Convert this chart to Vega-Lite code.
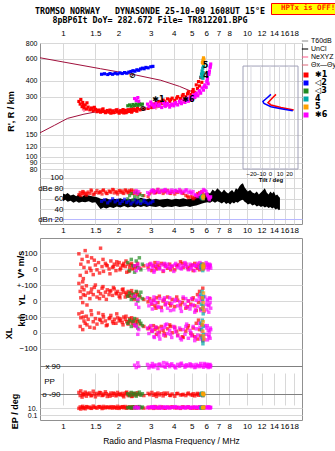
{
  "$schema": "https://vega.github.io/schema/vega-lite/v6.json",
  "background": "white",
  "padding": {"left": 3, "top": 2, "right": 0, "bottom": 0},
  "title": {
    "text": ["TROMSO NORWAY\u00a0\u00a0\u00a0DYNASONDE 25-10-09 1608UT 15°E", "\u00a0\u00a08pBP6It DoY= 282.672 File= TR812201.BPG"],
    "font": "DejaVu Sans Mono", "fontSize": 8.3, "fontWeight": "bold", "color": "#000", "anchor": "middle", "frame": "group", "dx": -21, "lineHeight": 9, "offset": -22
  },
  "spacing": 2,
  "resolve": {"scale": {"fill": "independent", "color": "independent", "shape": "independent", "x": "independent", "y": "independent"}},
  "vconcat": [
    {
      "width": 262, "height": 181,
      "resolve": {"scale": {"x": "independent", "y": "independent"}, "axis": {"x": "independent", "y": "independent"}},
      "layer": [
        {
          "layer": [
            {
              "data": {"name": "mline"},
              "mark": {"type": "line", "color": "#a0103c", "strokeWidth": 1, "clip": true},
              "encoding": {
                "x": {"field": "f", "type": "quantitative", "scale": {"type": "log", "domain": [0.75, 19.9], "nice": false},
                      "axis": {"orient": "top", "values": [1,1.5,2,3,4,5,6,7,8,10,12,14,16,18], "format": "~g", "grid": true, "title": null, "labelPadding": 6}},
                "y": {"field": "h", "type": "quantitative", "scale": {"type": "log", "domain": [29.3, 800], "nice": false},
                      "axis": {"orient": "left", "values": [80,90,100,120,150,200,300,400,600,800], "format": "~g", "grid": true, "labelFontSize": 7, "title": "R', R / km", "titleX": -25, "titleY": 68}},
                "detail": {"field": "line"}
              }
            },
            {
              "data": {"name": "nexyz"},
              "mark": {"type": "line", "strokeWidth": 1},
              "encoding": {
                "x": {"field": "f", "type": "quantitative"},
                "y": {"field": "h", "type": "quantitative"},
                "color": {"field": "s", "type": "nominal",
                          "scale": {"domain": ["T60dB", "UnCl", "NeXYZ", "Θx—Θy"], "range": ["#909090", "#000000", "#ff6090", "#e07080"]},
                          "legend": {"orient": "none", "legendX": 261, "legendY": -6, "title": null, "symbolType": "stroke", "symbolSize": 40, "symbolStrokeWidth": 1.5, "labelFont": "Liberation Sans", "labelFontSize": 7, "labelColor": "#000", "rowPadding": 1, "labelOffset": 2, "padding": 0}}
              }
            },
            {
              "data": {"name": "nexyz"},
              "mark": {"type": "point", "shape": "cross", "filled": true, "size": 18},
              "encoding": {
                "x": {"field": "f", "type": "quantitative"},
                "y": {"field": "h", "type": "quantitative"},
                "color": {"field": "s", "type": "nominal"}
              }
            },
            {
              "data": {"name": "echo"},
              "mark": {"type": "square", "size": 10, "opacity": 1},
              "encoding": {
                "x": {"field": "f", "type": "quantitative"},
                "y": {"field": "h", "type": "quantitative"},
                "fill": {"field": "c", "type": "nominal",
                         "scale": {"domain": ["1","2","3","4","5","6"], "range": ["#ff0000","#0000ff","#208a20","#00a8a8","#ffa000","#ff00ff"]},
                         "legend": {"orient": "none", "legendX": 262, "legendY": 28, "title": null, "symbolType": "square", "symbolSize": 25, "labelFont": "DejaVu Sans", "labelFontSize": 8, "labelFontWeight": "bold", "labelColor": "#000", "rowPadding": 0, "labelOffset": 5, "padding": 0,
                                    "labelExpr": "datum.label=='1'?'✱1':datum.label=='2'?'◁2':datum.label=='3'?'◁3':datum.label=='4'?' 4':datum.label=='5'?' 5':'✱6'"}}
              }
            },
            {
              "data": {"name": "tlabel"},
              "mark": {"type": "text", "font": "DejaVu Sans", "fontSize": 8, "fontWeight": "bold", "color": "#000"},
              "encoding": {
                "x": {"field": "f", "type": "quantitative"},
                "y": {"field": "h", "type": "quantitative"},
                "text": {"field": "t"}
              }
            },
            {
              "data": {"values": [{"note": "HPTx is OFF!"}]},
              "mark": {"type": "point", "opacity": 0},
              "encoding": {
                "shape": {"field": "note", "type": "nominal",
                          "legend": {"orient": "none", "legendX": 231, "legendY": -40, "title": null, "fillColor": "#ffff00", "strokeColor": "#ff0000", "padding": 1.5, "symbolSize": 1, "symbolOpacity": 0, "symbolStrokeWidth": 0, "labelOffset": 1, "labelFont": "DejaVu Sans Mono", "labelFontSize": 7.5, "labelFontWeight": "bold", "labelColor": "#ff2000"}}
              }
            }
          ]
        },
        {
          "layer": [
            {
              "data": {"name": "noise"},
              "mark": {"type": "area", "color": "#000"},
              "encoding": {
                "x": {"field": "f", "type": "quantitative", "scale": {"type": "log", "domain": [0.75, 19.9], "nice": false},
                      "axis": {"orient": "bottom", "values": [1,1.5,2,3,4,5,6,7,8,10,12,14,16,18], "format": "~g", "grid": false, "title": null, "labelPadding": 2}},
                "y": {"field": "lo", "type": "quantitative", "scale": {"domain": [11.3, 360], "nice": false, "zero": false},
                      "axis": {"orient": "left", "offset": -25, "values": [20,40,60,80,100], "labelPadding": 2, "title": null, "grid": true,
                               "gridColor": {"condition": {"test": "datum.value==20", "value": "#b8b8ff"}, "value": "#d8d8d8"},
                               "labelExpr": "datum.value==80?'dBe 80':datum.value==20?'dBn 20':datum.label"}},
                "y2": {"field": "hi"}
              }
            },
            {
              "data": {"name": "echo"},
              "mark": {"type": "square", "size": 10},
              "encoding": {
                "x": {"field": "f", "type": "quantitative"},
                "y": {"field": "db", "type": "quantitative"},
                "fill": {"field": "c", "type": "nominal"}
              }
            }
          ]
        },
        {
          "layer": [
            {
              "data": {"values": [{"t1": -28.4, "t2": 29.5, "h1": 80, "h2": 525}]},
              "mark": {"type": "rect", "filled": false, "stroke": "#a0a0b8", "strokeWidth": 1},
              "encoding": {
                "x": {"field": "t1", "type": "quantitative", "scale": {"domain": [-28.4, 29.5], "range": [203, 258], "nice": false, "zero": false},
                      "axis": {"orient": "bottom", "offset": -55, "values": [-20,-10,0,10,20], "title": "Tilt / deg", "labelFontSize": 6, "titleFontSize": 6, "labelPadding": 1, "titlePadding": 0, "grid": false, "labelOverlap": false, "labelFlush": false}},
                "x2": {"field": "t2"},
                "y": {"field": "h1", "type": "quantitative", "scale": {"type": "log", "domain": [29.3, 800], "nice": false}, "axis": null},
                "y2": {"field": "h2"}
              }
            },
            {
              "data": {"values": [{"t": -20}, {"t": -10}, {"t": 0}, {"t": 10}, {"t": 20}]},
              "mark": {"type": "rule", "color": "#d8d8e0"},
              "encoding": {
                "x": {"field": "t", "type": "quantitative"},
                "y": {"datum": 80, "type": "quantitative"},
                "y2": {"datum": 525}
              }
            },
            {
              "data": {"name": "tiltx"},
              "mark": {"type": "line", "color": "#ff0000", "strokeWidth": 1.5},
              "encoding": {
                "x": {"field": "t", "type": "quantitative"},
                "y": {"field": "h", "type": "quantitative"},
                "order": {"field": "o"}
              }
            },
            {
              "data": {"name": "tilty"},
              "mark": {"type": "line", "color": "#0000ff", "strokeWidth": 1.5},
              "encoding": {
                "x": {"field": "t", "type": "quantitative"},
                "y": {"field": "h", "type": "quantitative"},
                "order": {"field": "o"}
              }
            }
          ]
        }
      ]
    },
    {
      "width": 262, "height": 182,
      "resolve": {"scale": {"x": "independent", "y": "independent"}, "axis": {"x": "independent", "y": "independent"}},
      "layer": [
        {
          "data": {"name": "echo"},
          "mark": {"type": "square", "size": 12},
          "encoding": {
            "x": {"field": "f", "type": "quantitative", "scale": {"type": "log", "domain": [0.75, 19.9], "nice": false},
                  "axis": {"orient": "bottom", "values": [1,1.5,2,3,4,5,6,7,8,10,12,14,16,18], "format": "~g", "grid": true, "title": "Radio and Plasma Frequency / MHz", "titleFontWeight": "normal", "titleFontSize": 8.5, "titlePadding": 6, "labelPadding": 2}},
            "y": {"field": "v", "type": "quantitative", "scale": {"domain": [-100, 100], "range": [47, 15], "nice": false, "zero": false},
                  "axis": {"orient": "left", "values": [0, 100], "grid": true, "title": "V* m/s", "titleX": -15, "titleY": 26}},
            "fill": {"field": "c", "type": "nominal", "scale": {"domain": ["1","2","3","4","5","6"], "range": ["#ff0000","#0000ff","#208a20","#00a8a8","#ffa000","#ff00ff"]}, "legend": null}
          }
        },
        {
          "data": {"name": "echo"},
          "mark": {"type": "square", "size": 12},
          "encoding": {
            "x": {"field": "f", "type": "quantitative", "scale": {"type": "log", "domain": [0.75, 19.9], "nice": false}, "axis": null},
            "y": {"field": "yl", "type": "quantitative", "scale": {"domain": [-100, 100], "range": [79, 47], "nice": false, "zero": false},
                  "axis": {"orient": "left", "values": [0, 100], "grid": true, "labelExpr": "datum.value==100?'+-100':'0'", "title": "km\u00a0\u00a0\u00a0YL", "titleX": -14, "titleY": 72}},
            "fill": {"field": "c", "type": "nominal", "legend": null}
          }
        },
        {
          "data": {"name": "echo"},
          "mark": {"type": "square", "size": 12},
          "encoding": {
            "x": {"field": "f", "type": "quantitative", "scale": {"type": "log", "domain": [0.75, 19.9], "nice": false}, "axis": null},
            "y": {"field": "xl", "type": "quantitative", "scale": {"domain": [-100, 100], "range": [110.5, 79], "nice": false, "zero": false},
                  "axis": {"orient": "left", "values": [-100, 0, 100], "grid": true, "labelExpr": "datum.value==100?'+-100':datum.label", "title": "XL", "titleX": -27, "titleY": 95}},
            "fill": {"field": "c", "type": "nominal", "legend": null}
          }
        },
        {
          "data": {"name": "echo"},
          "mark": {"type": "square", "size": 12},
          "encoding": {
            "x": {"field": "f", "type": "quantitative", "scale": {"type": "log", "domain": [0.75, 19.9], "nice": false}, "axis": null},
            "y": {"field": "pp", "type": "quantitative", "scale": {"domain": [-90, 90], "range": [156, 128], "nice": false, "zero": false},
                  "axis": {"orient": "left", "offset": -22, "values": [-90, 90], "grid": true, "gridColor": "#808080", "labelPadding": 2, "labelExpr": "datum.value==90?'x 90':'o -90'", "title": "PP", "titleAngle": 0, "titleX": -13, "titleY": 143, "titleAlign": "center", "titleBaseline": "middle", "titleFontWeight": "normal", "titleFontSize": 8}},
            "fill": {"field": "c", "type": "nominal", "legend": null}
          }
        },
        {
          "data": {"name": "echo"},
          "mark": {"type": "square", "size": 12},
          "encoding": {
            "x": {"field": "f", "type": "quantitative", "scale": {"type": "log", "domain": [0.75, 19.9], "nice": false}, "axis": null},
            "y": {"field": "ep", "type": "quantitative", "scale": {"type": "log", "domain": [0.1, 10], "range": [177, 170], "nice": false},
                  "axis": {"orient": "left", "values": [0.1, 10], "grid": true, "labelFontSize": 7, "labelExpr": "datum.value==10?'10.':'0.1'", "title": "EP / deg", "titleX": -21, "titleY": 173}},
            "fill": {"field": "c", "type": "nominal", "legend": null}
          }
        }
      ]
    }
  ],
  "datasets": {
    "mline": [
      {"line": "a", "f": 0.75, "h": 611}, {"line": "a", "f": 1, "h": 566}, {"line": "a", "f": 1.6, "h": 500}, {"line": "a", "f": 2.5, "h": 445}, {"line": "a", "f": 3.4, "h": 405}, {"line": "a", "f": 4.3, "h": 362}, {"line": "a", "f": 5.2, "h": 322},
      {"line": "b", "f": 0.75, "h": 155}, {"line": "b", "f": 0.9, "h": 178}, {"line": "b", "f": 1.06, "h": 202}, {"line": "b", "f": 1.3, "h": 218}, {"line": "b", "f": 1.6, "h": 231}, {"line": "b", "f": 2.2, "h": 238}, {"line": "b", "f": 3.0, "h": 242}, {"line": "b", "f": 3.4, "h": 249}, {"line": "b", "f": 4.3, "h": 266}, {"line": "b", "f": 5.2, "h": 290}
    ],
    "nexyz": [
      {"s": "NeXYZ", "f": 1.3, "h": 236}, {"s": "NeXYZ", "f": 1.6, "h": 233}, {"s": "NeXYZ", "f": 2.0, "h": 236}, {"s": "NeXYZ", "f": 2.4, "h": 238}, {"s": "NeXYZ", "f": 2.8, "h": 241}, {"s": "NeXYZ", "f": 3.2, "h": 246}, {"s": "NeXYZ", "f": 3.6, "h": 252}, {"s": "NeXYZ", "f": 4.0, "h": 259}, {"s": "NeXYZ", "f": 4.4, "h": 268}, {"s": "NeXYZ", "f": 4.8, "h": 280}, {"s": "NeXYZ", "f": 5.2, "h": 296}, {"s": "NeXYZ", "f": 5.5, "h": 318}
    ],
    "tlabel": [
      {"f": 3.3, "h": 282, "t": "✱1"}, {"f": 2.38, "h": 440, "t": "⊘"}, {"f": 2.72, "h": 238, "t": "⊗"}, {"f": 4.8, "h": 282, "t": "✱6"}, {"f": 5.98, "h": 440, "t": "4"}, {"f": 5.95, "h": 525, "t": "5"}
    ],
    "tiltx": [
      {"o": 1, "t": 6.3, "h": 313}, {"o": 2, "t": 2, "h": 290}, {"o": 3, "t": -2.1, "h": 269}, {"o": 4, "t": 1, "h": 258}, {"o": 5, "t": 11.6, "h": 246}, {"o": 6, "t": 25, "h": 235}
    ],
    "tilty": [
      {"o": 1, "t": 1, "h": 313}, {"o": 2, "t": -3.2, "h": 293}, {"o": 3, "t": -7.4, "h": 275}, {"o": 4, "t": -6.3, "h": 265}, {"o": 5, "t": 1, "h": 250}, {"o": 6, "t": 11.6, "h": 241}, {"o": 7, "t": 24, "h": 232}
    ],
    "noise": [
      {"f": 1.0, "lo": 55, "hi": 70}, {"f": 1.03, "lo": 58, "hi": 68}, {"f": 1.06, "lo": 54, "hi": 71}, {"f": 1.1, "lo": 56, "hi": 66}, {"f": 1.14, "lo": 52, "hi": 68}, {"f": 1.18, "lo": 55, "hi": 65}, {"f": 1.22, "lo": 52, "hi": 69}, {"f": 1.27, "lo": 54, "hi": 64}, {"f": 1.32, "lo": 53, "hi": 68}, {"f": 1.38, "lo": 55, "hi": 66}, {"f": 1.44, "lo": 52, "hi": 65}, {"f": 1.5, "lo": 53, "hi": 64},
      {"f": 1.56, "lo": 45, "hi": 62}, {"f": 1.6, "lo": 40, "hi": 60}, {"f": 1.66, "lo": 43, "hi": 59}, {"f": 1.72, "lo": 41, "hi": 61}, {"f": 1.8, "lo": 44, "hi": 58}, {"f": 1.88, "lo": 42, "hi": 60}, {"f": 1.96, "lo": 45, "hi": 59}, {"f": 2.05, "lo": 43, "hi": 61}, {"f": 2.15, "lo": 46, "hi": 58}, {"f": 2.25, "lo": 43, "hi": 60}, {"f": 2.35, "lo": 45, "hi": 59}, {"f": 2.45, "lo": 43, "hi": 61}, {"f": 2.55, "lo": 46, "hi": 59}, {"f": 2.65, "lo": 44, "hi": 62}, {"f": 2.75, "lo": 46, "hi": 60}, {"f": 2.85, "lo": 44, "hi": 59}, {"f": 2.95, "lo": 46, "hi": 61},
      {"f": 3.05, "lo": 45, "hi": 58}, {"f": 3.2, "lo": 44, "hi": 60}, {"f": 3.35, "lo": 46, "hi": 58}, {"f": 3.5, "lo": 43, "hi": 59}, {"f": 3.7, "lo": 45, "hi": 60}, {"f": 3.9, "lo": 44, "hi": 58}, {"f": 4.1, "lo": 46, "hi": 60}, {"f": 4.3, "lo": 44, "hi": 59}, {"f": 4.5, "lo": 45, "hi": 61}, {"f": 4.7, "lo": 46, "hi": 59}, {"f": 4.9, "lo": 44, "hi": 60}, {"f": 5.1, "lo": 46, "hi": 62}, {"f": 5.3, "lo": 47, "hi": 64}, {"f": 5.5, "lo": 49, "hi": 66}, {"f": 5.7, "lo": 51, "hi": 68}, {"f": 5.9, "lo": 52, "hi": 70},
      {"f": 6.1, "lo": 53, "hi": 72}, {"f": 6.3, "lo": 52, "hi": 70}, {"f": 6.5, "lo": 55, "hi": 78}, {"f": 6.7, "lo": 52, "hi": 74}, {"f": 6.9, "lo": 55, "hi": 80}, {"f": 7.1, "lo": 53, "hi": 76}, {"f": 7.3, "lo": 51, "hi": 72}, {"f": 7.5, "lo": 54, "hi": 78}, {"f": 7.7, "lo": 50, "hi": 73}, {"f": 7.9, "lo": 52, "hi": 70}, {"f": 8.1, "lo": 49, "hi": 74}, {"f": 8.3, "lo": 53, "hi": 77}, {"f": 8.5, "lo": 51, "hi": 72}, {"f": 8.7, "lo": 54, "hi": 80}, {"f": 8.9, "lo": 52, "hi": 78},
      {"f": 9.1, "lo": 55, "hi": 84}, {"f": 9.3, "lo": 57, "hi": 88}, {"f": 9.5, "lo": 58, "hi": 90}, {"f": 9.7, "lo": 54, "hi": 82}, {"f": 9.9, "lo": 52, "hi": 78}, {"f": 10.1, "lo": 49, "hi": 74}, {"f": 10.4, "lo": 51, "hi": 77}, {"f": 10.7, "lo": 47, "hi": 72}, {"f": 11.0, "lo": 49, "hi": 70}, {"f": 11.3, "lo": 45, "hi": 74}, {"f": 11.6, "lo": 47, "hi": 68}, {"f": 11.9, "lo": 44, "hi": 72}, {"f": 12.2, "lo": 46, "hi": 76}, {"f": 12.5, "lo": 43, "hi": 80}, {"f": 12.8, "lo": 45, "hi": 72}, {"f": 13.1, "lo": 42, "hi": 68}, {"f": 13.4, "lo": 44, "hi": 74}, {"f": 13.7, "lo": 41, "hi": 70}, {"f": 14.0, "lo": 43, "hi": 74}, {"f": 14.3, "lo": 39, "hi": 66}, {"f": 14.6, "lo": 41, "hi": 68}, {"f": 14.9, "lo": 38, "hi": 64}, {"f": 15.1, "lo": 39, "hi": 62}
    ],
    "echo": [
      {"f": 1.62, "c": "2", "h": 452, "db": 55}, {"f": 1.68, "c": "2", "h": 456, "db": 58}, {"f": 1.75, "c": "2", "h": 450, "db": 52}, {"f": 1.8, "c": "2", "h": 458, "db": 56}, {"f": 1.86, "c": "2", "h": 452, "db": 60}, {"f": 1.92, "c": "2", "h": 460, "db": 54}, {"f": 1.98, "c": "2", "h": 455, "db": 57}, {"f": 2.04, "c": "2", "h": 463, "db": 51}, {"f": 2.1, "c": "2", "h": 458, "db": 55}, {"f": 2.16, "c": "2", "h": 466, "db": 59}, {"f": 2.22, "c": "2", "h": 461, "db": 53}, {"f": 2.28, "c": "2", "h": 470, "db": 56},
      {"f": 2.34, "c": "2", "h": 475, "db": 50}, {"f": 2.4, "c": "2", "h": 482, "db": 54}, {"f": 2.46, "c": "2", "h": 478, "db": 58}, {"f": 2.52, "c": "2", "h": 490, "db": 52}, {"f": 2.58, "c": "2", "h": 486, "db": 55}, {"f": 2.64, "c": "2", "h": 498, "db": 51}, {"f": 2.7, "c": "2", "h": 505, "db": 54}, {"f": 2.76, "c": "2", "h": 500, "db": 57}, {"f": 2.82, "c": "2", "h": 512, "db": 53}, {"f": 2.9, "c": "2", "h": 508, "db": 50}, {"f": 3.0, "c": "2", "h": 518, "db": 52}, {"f": 3.08, "c": "2", "h": 522, "db": 55},
      {"f": 1.22, "c": "1", "h": 275, "db": 68, "v": 95, "yl": 110, "xl": 120, "pp": -80, "ep": 8},
      {"f": 1.24, "c": "1", "h": 262, "db": 72, "v": -40, "yl": 60, "xl": 40, "pp": -100, "ep": 20},
      {"f": 1.25, "c": "1", "h": 285, "db": 66, "v": 30, "yl": 20, "xl": 95, "pp": -70, "ep": 5},
      {"f": 1.27, "c": "1", "h": 250, "db": 70, "v": 60, "yl": 85, "xl": 130, "pp": -110, "ep": 15},
      {"f": 1.28, "c": "1", "h": 270, "db": 74, "v": -80, "yl": -10, "xl": 20, "pp": -88, "ep": 30},
      {"f": 1.29, "c": "1", "h": 255, "db": 73, "v": -60, "yl": 40, "xl": 100, "pp": -94, "ep": 12},
      {"f": 1.3, "c": "1", "h": 245, "db": 69, "v": 10, "yl": 70, "xl": 75, "pp": -95, "ep": 10},
      {"f": 1.32, "c": "1", "h": 258, "db": 71, "v": 115, "yl": 35, "xl": 60, "pp": -78, "ep": 6},
      {"f": 1.34, "c": "1", "h": 240, "db": 67, "v": -20, "yl": 95, "xl": 105, "pp": -104, "ep": 25},
      {"f": 1.35, "c": "1", "h": 268, "db": 70, "v": 80, "yl": -25, "xl": 50, "pp": -86, "ep": 20},
      {"f": 1.37, "c": "1", "h": 248, "db": 73, "v": 45, "yl": 50, "xl": 85, "pp": -92, "ep": 12},
      {"f": 1.4, "c": "1", "h": 236, "db": 70, "v": 5, "yl": 15, "xl": 35, "pp": -84, "ep": 18},
      {"f": 1.42, "c": "1", "h": 240, "db": 77, "v": -10, "yl": 55, "xl": 140, "pp": -102, "ep": 9},
      {"f": 1.43, "c": "1", "h": 244, "db": 75, "v": 70, "yl": 75, "xl": 115, "pp": -98, "ep": 8},
      {"f": 1.46, "c": "1", "h": 232, "db": 68, "v": -35, "yl": 40, "xl": 70, "pp": -72, "ep": 35},
      {"f": 1.48, "c": "1", "h": 247, "db": 69, "v": 55, "yl": 85, "xl": 30, "pp": -90, "ep": 16},
      {"f": 1.5, "c": "1", "h": 238, "db": 72, "v": 25, "yl": 100, "xl": 90, "pp": -108, "ep": 14},
      {"f": 1.53, "c": "1", "h": 228, "db": 76, "v": -5, "yl": 25, "xl": 55, "pp": -86, "ep": 9},
      {"f": 1.56, "c": "1", "h": 235, "db": 71, "v": 40, "yl": 60, "xl": 125, "pp": -96, "ep": 22},
      {"f": 1.58, "c": "1", "h": 230, "db": 72, "v": -25, "yl": 15, "xl": 85, "pp": -80, "ep": 25},
      {"f": 1.6, "c": "1", "h": 226, "db": 74, "v": 130, "yl": 45, "xl": 80, "pp": -82, "ep": 16},
      {"f": 1.63, "c": "1", "h": 236, "db": 69, "v": 15, "yl": 80, "xl": 65, "pp": -100, "ep": 7},
      {"f": 1.65, "c": "1", "h": 240, "db": 76, "v": 60, "yl": 90, "xl": 115, "pp": -98, "ep": 11},
      {"f": 1.66, "c": "1", "h": 229, "db": 77, "v": -15, "yl": 30, "xl": 100, "pp": -90, "ep": 28},
      {"f": 1.7, "c": "1", "h": 224, "db": 73, "v": 35, "yl": 55, "xl": 75, "pp": -76, "ep": 11},
      {"f": 1.72, "c": "1", "h": 228, "db": 70, "v": 25, "yl": 10, "xl": 45, "pp": -88, "ep": 18},
      {"f": 1.74, "c": "1", "h": 233, "db": 70, "v": 20, "yl": 70, "xl": 50, "pp": -106, "ep": 19},
      {"f": 1.78, "c": "1", "h": 226, "db": 75, "v": 0, "yl": 40, "xl": 90, "pp": -94, "ep": 13},
      {"f": 1.8, "c": "1", "h": 235, "db": 74, "v": -30, "yl": 60, "xl": 95, "pp": -104, "ep": 13},
      {"f": 1.82, "c": "1", "h": 222, "db": 72, "v": 50, "yl": 65, "xl": 110, "pp": -84, "ep": 24},
      {"f": 1.86, "c": "1", "h": 231, "db": 78, "v": 10, "yl": 35, "xl": 70, "pp": -98, "ep": 9},
      {"f": 1.88, "c": "1", "h": 224, "db": 77, "v": 15, "yl": 85, "xl": 60, "pp": -84, "ep": 21},
      {"f": 1.9, "c": "1", "h": 225, "db": 71, "v": 30, "yl": 75, "xl": 85, "pp": -88, "ep": 17},
      {"f": 1.94, "c": "1", "h": 234, "db": 74, "v": -10, "yl": 50, "xl": 60, "pp": -102, "ep": 12},
      {"f": 1.96, "c": "1", "h": 236, "db": 72, "v": 45, "yl": 45, "xl": 120, "pp": -96, "ep": 9},
      {"f": 1.98, "c": "1", "h": 227, "db": 69, "v": 25, "yl": 60, "xl": 95, "pp": -80, "ep": 30},
      {"f": 2.02, "c": "1", "h": 222, "db": 76, "v": 40, "yl": 30, "xl": 75, "pp": -92, "ep": 8},
      {"f": 2.04, "c": "1", "h": 228, "db": 75, "v": -5, "yl": 20, "xl": 90, "pp": -90, "ep": 15},
      {"f": 2.06, "c": "1", "h": 232, "db": 72, "v": 5, "yl": 45, "xl": 80, "pp": -96, "ep": 15},
      {"f": 2.1, "c": "1", "h": 226, "db": 75, "v": 20, "yl": 70, "xl": 65, "pp": -86, "ep": 21},
      {"f": 2.12, "c": "1", "h": 237, "db": 71, "v": 25, "yl": 75, "xl": 50, "pp": -100, "ep": 24},
      {"f": 2.14, "c": "1", "h": 223, "db": 70, "v": 35, "yl": 55, "xl": 100, "pp": -108, "ep": 11},
      {"f": 2.18, "c": "1", "h": 233, "db": 77, "v": 15, "yl": 25, "xl": 85, "pp": -90, "ep": 26},
      {"f": 2.2, "c": "1", "h": 224, "db": 76, "v": 50, "yl": 50, "xl": 105, "pp": -82, "ep": 12},
      {"f": 2.22, "c": "1", "h": 227, "db": 73, "v": -20, "yl": 40, "xl": 70, "pp": -78, "ep": 9},
      {"f": 2.26, "c": "1", "h": 236, "db": 71, "v": 30, "yl": 60, "xl": 55, "pp": -100, "ep": 14},
      {"f": 2.28, "c": "1", "h": 234, "db": 73, "v": -15, "yl": 30, "xl": 70, "pp": -92, "ep": 17},
      {"f": 2.3, "c": "1", "h": 229, "db": 76, "v": 10, "yl": 35, "xl": 90, "pp": -94, "ep": 18},
      {"f": 2.34, "c": "1", "h": 238, "db": 74, "v": 25, "yl": 50, "xl": 75, "pp": -84, "ep": 12},
      {"f": 2.36, "c": "1", "h": 226, "db": 77, "v": 35, "yl": 65, "xl": 95, "pp": -106, "ep": 10},
      {"f": 2.38, "c": "1", "h": 231, "db": 70, "v": 0, "yl": 20, "xl": 60, "pp": -104, "ep": 23},
      {"f": 2.42, "c": "1", "h": 240, "db": 75, "v": 20, "yl": 45, "xl": 80, "pp": -88, "ep": 10},
      {"f": 2.44, "c": "1", "h": 236, "db": 70, "v": 5, "yl": 10, "xl": 45, "pp": -88, "ep": 19},
      {"f": 2.48, "c": "1", "h": 234, "db": 72, "v": 15, "yl": 30, "xl": 65, "pp": -96, "ep": 16},
      {"f": 2.52, "c": "1", "h": 230, "db": 74, "v": 20, "yl": 55, "xl": 85, "pp": -94, "ep": 14},
      {"f": 2.54, "c": "1", "h": 243, "db": 68, "v": 35, "yl": 40, "xl": 70, "pp": -82, "ep": 20},
      {"f": 2.62, "c": "1", "h": 236, "db": 70, "v": 5, "yl": 25, "xl": 55, "pp": -92, "ep": 13},
      {"f": 2.75, "c": "1", "h": 240, "db": 66, "v": 20, "yl": 10, "xl": 40, "pp": -100, "ep": 9},
      {"f": 2.9, "c": "1", "h": 242, "db": 64, "v": 10, "yl": -5, "xl": 25, "pp": -86, "ep": 15},
      {"f": 2.96, "c": "1", "h": 252, "db": 70, "v": 30, "yl": 15, "xl": 35, "pp": -94, "ep": 11},
      {"f": 3.04, "c": "1", "h": 246, "db": 73, "v": -10, "yl": -20, "xl": 10, "pp": -80, "ep": 18},
      {"f": 3.1, "c": "1", "h": 262, "db": 76, "v": 20, "yl": 5, "xl": 45, "pp": -98, "ep": 8},
      {"f": 3.16, "c": "1", "h": 254, "db": 71, "v": 40, "yl": -30, "xl": 20, "pp": -90, "ep": 25},
      {"f": 3.2, "c": "1", "h": 262, "db": 72, "v": 15, "yl": -45, "xl": 35, "pp": -92, "ep": 13},
      {"f": 3.22, "c": "1", "h": 270, "db": 74, "v": 0, "yl": 20, "xl": -10, "pp": -106, "ep": 12},
      {"f": 3.28, "c": "1", "h": 258, "db": 78, "v": 25, "yl": -10, "xl": 30, "pp": -84, "ep": 16},
      {"f": 3.34, "c": "1", "h": 275, "db": 72, "v": 10, "yl": 30, "xl": 5, "pp": -96, "ep": 10},
      {"f": 3.42, "c": "1", "h": 264, "db": 75, "v": 35, "yl": -40, "xl": 40, "pp": -88, "ep": 20},
      {"f": 3.5, "c": "1", "h": 282, "db": 70, "v": -15, "yl": 0, "xl": 15, "pp": -102, "ep": 14},
      {"f": 3.55, "c": "1", "h": 276, "db": 75, "v": 30, "yl": 10, "xl": -5, "pp": -84, "ep": 11},
      {"f": 3.6, "c": "1", "h": 268, "db": 73, "v": 20, "yl": -20, "xl": -20, "pp": -92, "ep": 9},
      {"f": 3.7, "c": "1", "h": 288, "db": 76, "v": 5, "yl": 25, "xl": 25, "pp": -84, "ep": 17},
      {"f": 3.8, "c": "1", "h": 274, "db": 71, "v": 30, "yl": -15, "xl": 50, "pp": -98, "ep": 12},
      {"f": 3.85, "c": "1", "h": 284, "db": 70, "v": -5, "yl": -30, "xl": 40, "pp": -100, "ep": 16},
      {"f": 3.92, "c": "1", "h": 292, "db": 74, "v": 15, "yl": 10, "xl": 0, "pp": -90, "ep": 22},
      {"f": 4.05, "c": "1", "h": 280, "db": 69, "v": -5, "yl": -35, "xl": 35, "pp": -104, "ep": 11},
      {"f": 4.15, "c": "1", "h": 292, "db": 74, "v": 20, "yl": 25, "xl": 10, "pp": -88, "ep": 12},
      {"f": 4.2, "c": "1", "h": 300, "db": 72, "v": 25, "yl": 5, "xl": -15, "pp": -86, "ep": 15},
      {"f": 4.35, "c": "1", "h": 290, "db": 75, "v": 45, "yl": -25, "xl": 20, "pp": -96, "ep": 8},
      {"f": 4.45, "c": "1", "h": 304, "db": 71, "v": 35, "yl": -10, "xl": -25, "pp": -96, "ep": 19},
      {"f": 4.5, "c": "1", "h": 312, "db": 70, "v": 10, "yl": 15, "xl": -30, "pp": -92, "ep": 18},
      {"f": 4.65, "c": "1", "h": 300, "db": 66, "v": 30, "yl": -45, "xl": 10, "pp": -100, "ep": 13},
      {"f": 4.75, "c": "1", "h": 316, "db": 65, "v": 10, "yl": -35, "xl": 30, "pp": -90, "ep": 14},
      {"f": 4.8, "c": "1", "h": 328, "db": 62, "v": 0, "yl": 0, "xl": 45, "pp": -84, "ep": 20},
      {"f": 4.95, "c": "1", "h": 312, "db": 64, "v": 20, "yl": -20, "xl": -5, "pp": -94, "ep": 10},
      {"f": 5.05, "c": "1", "h": 330, "db": 63, "v": 25, "yl": 10, "xl": -15, "pp": -98, "ep": 10},
      {"f": 5.1, "c": "1", "h": 342, "db": 60, "v": -10, "yl": 20, "xl": 30, "pp": -88, "ep": 16},
      {"f": 5.2, "c": "1", "h": 325, "db": 62, "v": 35, "yl": -30, "xl": -25, "pp": -102, "ep": 12},
      {"f": 5.3, "c": "1", "h": 372, "db": 66, "v": 15, "yl": -60, "xl": 60, "pp": -92, "ep": 9},
      {"f": 5.38, "c": "1", "h": 348, "db": 70, "v": 5, "yl": 40, "xl": -40, "pp": -86, "ep": 14},
      {"f": 5.45, "c": "1", "h": 395, "db": 68, "v": 25, "yl": -10, "xl": 80, "pp": -98, "ep": 11},
      {"f": 5.52, "c": "1", "h": 365, "db": 72, "v": -5, "yl": 60, "xl": 20, "pp": -90, "ep": 19},
      {"f": 5.6, "c": "1", "h": 425, "db": 70, "v": 20, "yl": -50, "xl": -20, "pp": -96, "ep": 13},
      {"f": 5.68, "c": "1", "h": 390, "db": 74, "v": 10, "yl": 20, "xl": 50, "pp": -88, "ep": 10},
      {"f": 5.75, "c": "1", "h": 455, "db": 70, "v": 30, "yl": 80, "xl": -50, "pp": -100, "ep": 15},
      {"f": 2.25, "c": "3", "h": 254, "db": 60, "v": 40, "yl": 30, "xl": 60, "pp": -88, "ep": 12},
      {"f": 2.3, "c": "3", "h": 258, "db": 66, "v": -10, "yl": 50, "xl": 80, "pp": -100, "ep": 18},
      {"f": 2.35, "c": "3", "h": 252, "db": 70, "v": 60, "yl": 10, "xl": 40, "pp": -80, "ep": 9},
      {"f": 2.4, "c": "3", "h": 260, "db": 58, "v": 20, "yl": 40, "xl": 70, "pp": -96, "ep": 22},
      {"f": 2.45, "c": "3", "h": 255, "db": 64, "v": -20, "yl": 20, "xl": 90, "pp": -84, "ep": 14},
      {"f": 2.5, "c": "3", "h": 262, "db": 72, "v": 50, "yl": 60, "xl": 50, "pp": -104, "ep": 10},
      {"f": 2.55, "c": "3", "h": 256, "db": 62, "v": 10, "yl": 0, "xl": 30, "pp": -90, "ep": 16},
      {"f": 2.6, "c": "3", "h": 264, "db": 68, "v": 70, "yl": 35, "xl": 75, "pp": -78, "ep": 25},
      {"f": 2.65, "c": "3", "h": 258, "db": 56, "v": -5, "yl": 55, "xl": 60, "pp": -98, "ep": 11},
      {"f": 2.7, "c": "3", "h": 262, "db": 66, "v": 30, "yl": 15, "xl": 45, "pp": -88, "ep": 19},
      {"f": 2.45, "c": "6", "h": 290, "db": 72, "v": 20, "yl": 30, "xl": 50, "pp": 95, "ep": 12},
      {"f": 2.5, "c": "6", "h": 280, "db": 76, "v": -10, "yl": -20, "xl": 40, "pp": 80, "ep": 20},
      {"f": 2.55, "c": "6", "h": 295, "db": 70, "v": 30, "yl": 10, "xl": -10, "pp": 110, "ep": 9},
      {"f": 2.58, "c": "6", "h": 276, "db": 74, "v": 5, "yl": -40, "xl": 20, "pp": 88, "ep": 15},
      {"f": 2.88, "c": "6", "h": 262, "db": 72, "v": 25, "yl": 20, "xl": 30, "pp": 100, "ep": 11},
      {"f": 2.93, "c": "6", "h": 250, "db": 68, "v": -5, "yl": -30, "xl": -5, "pp": 78, "ep": 18},
      {"f": 3.0, "c": "6", "h": 272, "db": 74, "v": 35, "yl": 0, "xl": 45, "pp": 92, "ep": 14},
      {"f": 3.04, "c": "6", "h": 262, "db": 76, "v": 25, "yl": -15, "xl": 20, "pp": 86, "ep": 16},
      {"f": 3.06, "c": "6", "h": 258, "db": 77, "v": 10, "yl": -50, "xl": 10, "pp": 106, "ep": 22},
      {"f": 3.12, "c": "6", "h": 248, "db": 71, "v": -20, "yl": 25, "xl": -25, "pp": 84, "ep": 10},
      {"f": 3.14, "c": "6", "h": 254, "db": 74, "v": -10, "yl": 5, "xl": -30, "pp": 94, "ep": 22},
      {"f": 3.2, "c": "6", "h": 266, "db": 75, "v": 20, "yl": -10, "xl": 35, "pp": 96, "ep": 16},
      {"f": 3.28, "c": "6", "h": 254, "db": 78, "v": 40, "yl": -35, "xl": 0, "pp": 74, "ep": 12},
      {"f": 3.32, "c": "6", "h": 256, "db": 73, "v": 5, "yl": -40, "xl": -20, "pp": 100, "ep": 11},
      {"f": 3.36, "c": "6", "h": 262, "db": 72, "v": 0, "yl": 15, "xl": -40, "pp": 102, "ep": 26},
      {"f": 3.44, "c": "6", "h": 246, "db": 76, "v": 25, "yl": -60, "xl": 25, "pp": 90, "ep": 9},
      {"f": 3.52, "c": "6", "h": 270, "db": 74, "v": -10, "yl": 5, "xl": -15, "pp": 112, "ep": 18},
      {"f": 3.56, "c": "6", "h": 262, "db": 77, "v": 35, "yl": 20, "xl": 35, "pp": 88, "ep": 19},
      {"f": 3.6, "c": "6", "h": 252, "db": 78, "v": 15, "yl": -25, "xl": 50, "pp": 82, "ep": 13},
      {"f": 3.66, "c": "6", "h": 258, "db": 75, "v": 15, "yl": -10, "xl": 55, "pp": 108, "ep": 10},
      {"f": 3.7, "c": "6", "h": 266, "db": 71, "v": 30, "yl": -45, "xl": -5, "pp": 98, "ep": 21},
      {"f": 3.8, "c": "6", "h": 248, "db": 75, "v": 5, "yl": 20, "xl": 15, "pp": 86, "ep": 11},
      {"f": 3.84, "c": "6", "h": 256, "db": 72, "v": 10, "yl": -60, "xl": -10, "pp": 96, "ep": 13},
      {"f": 3.9, "c": "6", "h": 262, "db": 77, "v": 20, "yl": -15, "xl": -30, "pp": 104, "ep": 17},
      {"f": 4.0, "c": "6", "h": 254, "db": 72, "v": -15, "yl": -55, "xl": 40, "pp": 92, "ep": 14},
      {"f": 4.05, "c": "6", "h": 264, "db": 76, "v": 25, "yl": 0, "xl": 25, "pp": 84, "ep": 20},
      {"f": 4.1, "c": "6", "h": 270, "db": 76, "v": 35, "yl": 10, "xl": 5, "pp": 78, "ep": 24},
      {"f": 4.2, "c": "6", "h": 258, "db": 74, "v": 10, "yl": -30, "xl": -20, "pp": 100, "ep": 10},
      {"f": 4.3, "c": "6", "h": 276, "db": 78, "v": 25, "yl": -5, "xl": 30, "pp": 88, "ep": 16},
      {"f": 4.35, "c": "6", "h": 270, "db": 73, "v": 5, "yl": -45, "xl": -35, "pp": 102, "ep": 12},
      {"f": 4.4, "c": "6", "h": 264, "db": 71, "v": 0, "yl": -65, "xl": -45, "pp": 108, "ep": 12},
      {"f": 4.5, "c": "6", "h": 282, "db": 75, "v": 20, "yl": 25, "xl": 20, "pp": 94, "ep": 19},
      {"f": 4.6, "c": "6", "h": 270, "db": 73, "v": 40, "yl": -20, "xl": -10, "pp": 82, "ep": 9},
      {"f": 4.65, "c": "6", "h": 282, "db": 77, "v": 30, "yl": 15, "xl": 40, "pp": 90, "ep": 17},
      {"f": 4.7, "c": "6", "h": 290, "db": 77, "v": 15, "yl": -40, "xl": 55, "pp": 98, "ep": 15},
      {"f": 4.8, "c": "6", "h": 276, "db": 72, "v": -5, "yl": 0, "xl": -35, "pp": 90, "ep": 22},
      {"f": 4.9, "c": "6", "h": 298, "db": 75, "v": 30, "yl": -50, "xl": 15, "pp": 104, "ep": 11},
      {"f": 4.95, "c": "6", "h": 290, "db": 72, "v": 0, "yl": -30, "xl": 0, "pp": 98, "ep": 10},
      {"f": 5.0, "c": "6", "h": 284, "db": 70, "v": 10, "yl": 15, "xl": -20, "pp": 86, "ep": 17},
      {"f": 5.1, "c": "6", "h": 308, "db": 74, "v": 25, "yl": -25, "xl": 40, "pp": 96, "ep": 13},
      {"f": 5.2, "c": "6", "h": 296, "db": 68, "v": -10, "yl": -70, "xl": -50, "pp": 80, "ep": 20},
      {"f": 5.25, "c": "6", "h": 312, "db": 67, "v": 20, "yl": -55, "xl": -30, "pp": 84, "ep": 15},
      {"f": 5.3, "c": "6", "h": 320, "db": 66, "v": 20, "yl": 5, "xl": 25, "pp": 100, "ep": 12},
      {"f": 5.4, "c": "6", "h": 305, "db": 64, "v": 35, "yl": -35, "xl": -15, "pp": 92, "ep": 16},
      {"f": 5.5, "c": "6", "h": 335, "db": 68, "v": 5, "yl": 30, "xl": 60, "pp": 86, "ep": 10},
      {"f": 5.55, "c": "6", "h": 328, "db": 70, "v": 40, "yl": 10, "xl": 35, "pp": 94, "ep": 21},
      {"f": 5.6, "c": "6", "h": 320, "db": 72, "v": 15, "yl": -60, "xl": -40, "pp": 106, "ep": 18},
      {"f": 5.7, "c": "6", "h": 352, "db": 74, "v": 30, "yl": 0, "xl": 10, "pp": 90, "ep": 14},
      {"f": 5.8, "c": "6", "h": 338, "db": 78, "v": 0, "yl": -40, "xl": -30, "pp": 82, "ep": 22},
      {"f": 5.85, "c": "6", "h": 360, "db": 76, "v": 10, "yl": -65, "xl": -45, "pp": 106, "ep": 12},
      {"f": 5.9, "c": "6", "h": 372, "db": 76, "v": 20, "yl": 25, "xl": 45, "pp": 98, "ep": 12},
      {"f": 6.0, "c": "6", "h": 356, "db": 74, "v": 40, "yl": -20, "xl": -10, "pp": 88, "ep": 17},
      {"f": 6.05, "c": "6", "h": 395, "db": 70, "v": 10, "yl": -55, "xl": 30, "pp": 102, "ep": 10},
      {"f": 6.08, "c": "6", "h": 405, "db": 68, "v": 30, "yl": 0, "xl": 45, "pp": 88, "ep": 18},
      {"f": 6.1, "c": "6", "h": 420, "db": 66, "v": 25, "yl": 10, "xl": -45, "pp": 92, "ep": 15},
      {"f": 6.15, "c": "6", "h": 380, "db": 64, "v": -5, "yl": -30, "xl": 15, "pp": 80, "ep": 20},
      {"f": 6.2, "c": "6", "h": 450, "db": 60, "v": 15, "yl": -70, "xl": -25, "pp": 96, "ep": 13},
      {"f": 6.22, "c": "6", "h": 465, "db": 62, "v": 10, "yl": -25, "xl": -15, "pp": 96, "ep": 14},
      {"f": 6.25, "c": "6", "h": 480, "db": 58, "v": 30, "yl": 20, "xl": 5, "pp": 86, "ep": 18},
      {"f": 6.3, "c": "6", "h": 510, "db": 62, "v": 20, "yl": -10, "xl": -35, "pp": 100, "ep": 11},
      {"f": 6.32, "c": "6", "h": 525, "db": 63, "v": 25, "yl": 15, "xl": 30, "pp": 84, "ep": 11},
      {"f": 6.35, "c": "6", "h": 545, "db": 64, "v": 5, "yl": -45, "xl": 20, "pp": 92, "ep": 16},
      {"f": 5.62, "c": "4", "h": 430, "db": 62, "v": 10, "yl": 40, "xl": 60, "pp": -92, "ep": 12},
      {"f": 5.66, "c": "4", "h": 455, "db": 64, "v": 30, "yl": -20, "xl": 20, "pp": -84, "ep": 15},
      {"f": 5.7, "c": "4", "h": 480, "db": 60, "v": 0, "yl": 60, "xl": -30, "pp": -98, "ep": 10},
      {"f": 5.72, "c": "4", "h": 440, "db": 66, "v": 20, "yl": -50, "xl": 80, "pp": -88, "ep": 18},
      {"f": 5.75, "c": "4", "h": 505, "db": 62, "v": -10, "yl": 10, "xl": -50, "pp": -96, "ep": 13},
      {"f": 5.78, "c": "4", "h": 465, "db": 64, "v": 15, "yl": -80, "xl": 40, "pp": -90, "ep": 11},
      {"f": 5.8, "c": "4", "h": 530, "db": 60, "v": 25, "yl": 30, "xl": -10, "pp": -86, "ep": 16},
      {"f": 5.76, "c": "4", "h": 420, "db": 66, "v": 5, "yl": -30, "xl": -70, "pp": -100, "ep": 14},
      {"f": 5.72, "c": "5", "h": 560, "db": 64, "v": 20, "yl": 20, "xl": 50, "pp": -90, "ep": 12},
      {"f": 5.76, "c": "5", "h": 585, "db": 62, "v": 0, "yl": -40, "xl": 10, "pp": -84, "ep": 16},
      {"f": 5.8, "c": "5", "h": 610, "db": 66, "v": 30, "yl": 50, "xl": -20, "pp": -96, "ep": 10},
      {"f": 5.78, "c": "5", "h": 550, "db": 60, "v": 10, "yl": -10, "xl": 70, "pp": -88, "ep": 14},
      {"f": 5.83, "c": "5", "h": 595, "db": 64, "v": 15, "yl": -60, "xl": -40, "pp": -92, "ep": 18}
    ]
  },
  "config": {
    "view": {"stroke": "#909090", "strokeWidth": 1},
    "axis": {"labelFont": "Liberation Sans", "labelFontSize": 8, "labelColor": "#000", "titleFont": "Liberation Sans", "titleFontSize": 9, "titleFontWeight": "bold", "titleColor": "#000", "domain": false, "ticks": false, "gridColor": "#d8d8d8", "gridWidth": 1, "labelPadding": 3, "labelOverlap": false, "labelFlush": false},
    "legend": {"labelFont": "Liberation Sans"}
  }
}
